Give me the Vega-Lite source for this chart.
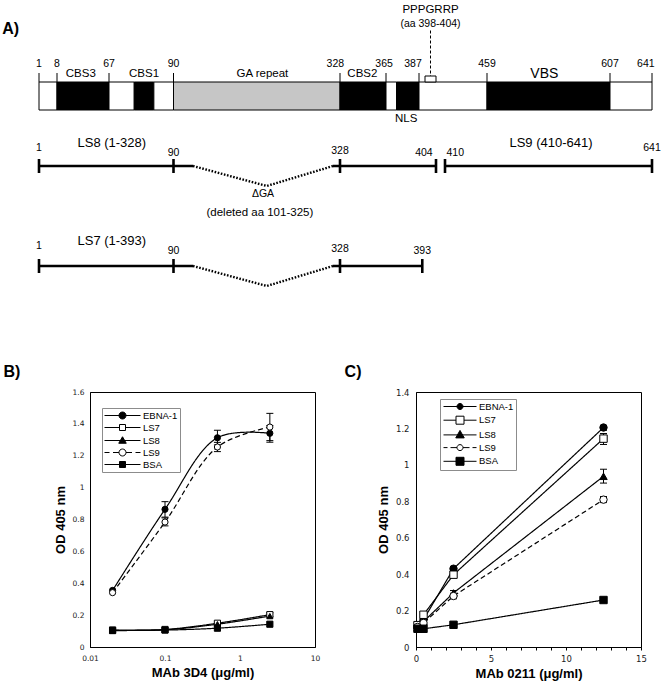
{
  "$schema": "https://vega.github.io/schema/vega-lite/v6.json",
  "padding": 0,
  "background": "white",
  "config": {
    "font": "Liberation Sans",
    "view": {"stroke": "black", "strokeWidth": 1},
    "axis": {"grid": false, "domainColor": "black", "domainWidth": 1, "tickColor": "black", "labelColor": "#1a1a1a", "labelFont": "DejaVu Sans", "titleFont": "Liberation Sans", "titleFontWeight": "bold", "titleColor": "black", "titleFontSize": 13, "labelFlush": false, "labelOverlap": false},
    "text": {"font": "Liberation Sans", "color": "black"},
    "legend": {"title": null, "labelFont": "Liberation Sans", "labelFontSize": 9.5, "labelColor": "black", "strokeColor": "#8c8c8c", "fillColor": "white", "padding": 2, "symbolSize": 100, "symbolStrokeColor": "black", "symbolStrokeWidth": 1, "symbolOpacity": 1}
  },
  "datasets": {
    "bar": [
      {"from": 1, "to": 8, "kind": "plain"},
      {"from": 8, "to": 67, "kind": "binding"},
      {"from": 67, "to": 76, "kind": "plain"},
      {"from": 76, "to": 83, "kind": "binding"},
      {"from": 83, "to": 90, "kind": "plain"},
      {"from": 90, "to": 328, "kind": "repeat"},
      {"from": 328, "to": 365, "kind": "binding"},
      {"from": 365, "to": 372, "kind": "plain"},
      {"from": 372, "to": 387, "kind": "binding"},
      {"from": 387, "to": 459, "kind": "plain"},
      {"from": 459, "to": 607, "kind": "binding"},
      {"from": 607, "to": 641, "kind": "plain"}
    ],
    "boundaries": [
      {"aa": 1}, {"aa": 8}, {"aa": 67}, {"aa": 90}, {"aa": 328}, {"aa": 365}, {"aa": 387}, {"aa": 459}, {"aa": 607}, {"aa": 641}
    ],
    "motif": [{"from": 398, "to": 404, "mid": 401}],
    "labels": [
      {"text": "A)", "aa": -10, "row": 2.8, "kind": "panel"},
      {"text": "B)", "aa": -9.5, "row": 37.1, "kind": "panel"},
      {"text": "C)", "aa": 338.5, "row": 37.1, "kind": "panel"},
      {"text": "PPPGRRP", "aa": 401, "row": 0.85, "kind": "name"},
      {"text": "(aa 398-404)", "aa": 401, "row": 2.25, "kind": "number"},
      {"text": "CBS3", "aa": 35, "row": 7.3, "kind": "name"},
      {"text": "CBS1", "aa": 79.5, "row": 7.3, "kind": "name"},
      {"text": "GA repeat", "aa": 212, "row": 7.3, "kind": "name"},
      {"text": "CBS2", "aa": 346, "row": 7.3, "kind": "name"},
      {"text": "VBS", "aa": 528, "row": 7.25, "kind": "bigname"},
      {"text": "NLS", "aa": 378.5, "row": 11.75, "kind": "name"},
      {"text": "1", "aa": 1, "row": 6.3, "kind": "number"},
      {"text": "8", "aa": 8, "row": 6.3, "kind": "number"},
      {"text": "67", "aa": 67, "row": 6.3, "kind": "number"},
      {"text": "90", "aa": 90, "row": 6.3, "kind": "number"},
      {"text": "328", "aa": 326, "row": 6.3, "kind": "number"},
      {"text": "365", "aa": 363.5, "row": 6.3, "kind": "number"},
      {"text": "387", "aa": 383, "row": 6.3, "kind": "number"},
      {"text": "459", "aa": 459, "row": 6.3, "kind": "number"},
      {"text": "607", "aa": 607, "row": 6.3, "kind": "number"},
      {"text": "641", "aa": 636, "row": 6.3, "kind": "number"},
      {"text": "LS8 (1-328)", "aa": 68, "row": 14.2, "kind": "track"},
      {"text": "LS9 (410-641)", "aa": 536, "row": 14.2, "kind": "track"},
      {"text": "1", "aa": 1, "row": 14.7, "kind": "number"},
      {"text": "90", "aa": 90, "row": 15.2, "kind": "number"},
      {"text": "328", "aa": 328, "row": 15.0, "kind": "number"},
      {"text": "404", "aa": 396, "row": 15.2, "kind": "number"},
      {"text": "410", "aa": 422, "row": 15.2, "kind": "number"},
      {"text": "641", "aa": 641, "row": 14.7, "kind": "number"},
      {"text": "ΔGA", "aa": 213, "row": 19.3, "kind": "number"},
      {"text": "(deleted aa 101-325)", "aa": 208, "row": 21.2, "kind": "name"},
      {"text": "LS7 (1-393)", "aa": 68, "row": 24.0, "kind": "track"},
      {"text": "1", "aa": 1, "row": 24.5, "kind": "number"},
      {"text": "90", "aa": 90, "row": 25.0, "kind": "number"},
      {"text": "328", "aa": 328, "row": 24.8, "kind": "number"},
      {"text": "393", "aa": 393, "row": 25.0, "kind": "number"}
    ],
    "tracks": [
      {"track": "LS8", "from": 1, "to": 101, "row": 16.5},
      {"track": "LS8", "from": 325, "to": 404, "row": 16.5},
      {"track": "LS9", "from": 410, "to": 641, "row": 16.5},
      {"track": "LS7", "from": 1, "to": 101, "row": 26.5},
      {"track": "LS7", "from": 325, "to": 393, "row": 26.5}
    ],
    "caps": [
      {"track": "LS8", "aa": 1, "row": 16.5},
      {"track": "LS8", "aa": 90, "row": 16.5},
      {"track": "LS8", "aa": 328, "row": 16.5},
      {"track": "LS8", "aa": 404, "row": 16.5},
      {"track": "LS9", "aa": 410, "row": 16.5},
      {"track": "LS9", "aa": 641, "row": 16.5},
      {"track": "LS7", "aa": 1, "row": 26.5},
      {"track": "LS7", "aa": 90, "row": 26.5},
      {"track": "LS7", "aa": 328, "row": 26.5},
      {"track": "LS7", "aa": 393, "row": 26.5}
    ],
    "gaps": [
      {"track": "LS8", "aa": 101, "row": 16.5},
      {"track": "LS8", "aa": 219, "row": 18.5},
      {"track": "LS8", "aa": 325, "row": 16.5},
      {"track": "LS7", "aa": 101, "row": 26.5},
      {"track": "LS7", "aa": 219, "row": 28.5},
      {"track": "LS7", "aa": 325, "row": 26.5}
    ],
    "elisaB": [
      {"conc": 0.02, "series": "EBNA-1", "od": 0.355},
      {"conc": 0.1, "series": "EBNA-1", "od": 0.864},
      {"conc": 0.5, "series": "EBNA-1", "od": 1.313},
      {"conc": 2.5, "series": "EBNA-1", "od": 1.341},
      {"conc": 0.02, "series": "LS7", "od": 0.107},
      {"conc": 0.1, "series": "LS7", "od": 0.11},
      {"conc": 0.5, "series": "LS7", "od": 0.149},
      {"conc": 2.5, "series": "LS7", "od": 0.203},
      {"conc": 0.02, "series": "LS8", "od": 0.104},
      {"conc": 0.1, "series": "LS8", "od": 0.108},
      {"conc": 0.5, "series": "LS8", "od": 0.143},
      {"conc": 2.5, "series": "LS8", "od": 0.194},
      {"conc": 0.02, "series": "LS9", "od": 0.341},
      {"conc": 0.1, "series": "LS9", "od": 0.784},
      {"conc": 0.5, "series": "LS9", "od": 1.255},
      {"conc": 2.5, "series": "LS9", "od": 1.38},
      {"conc": 0.02, "series": "BSA", "od": 0.103},
      {"conc": 0.1, "series": "BSA", "od": 0.106},
      {"conc": 0.5, "series": "BSA", "od": 0.118},
      {"conc": 2.5, "series": "BSA", "od": 0.143}
    ],
    "errB": [
      {"conc": 0.1, "series": "EBNA-1", "lo": 0.815, "hi": 0.912},
      {"conc": 0.5, "series": "EBNA-1", "lo": 1.268, "hi": 1.36},
      {"conc": 2.5, "series": "EBNA-1", "lo": 1.285, "hi": 1.39},
      {"conc": 0.1, "series": "LS9", "lo": 0.76, "hi": 0.81},
      {"conc": 0.5, "series": "LS9", "lo": 1.226, "hi": 1.284},
      {"conc": 2.5, "series": "LS9", "lo": 1.295, "hi": 1.466},
      {"conc": 2.5, "series": "LS7", "lo": 0.19, "hi": 0.215}
    ],
    "elisaC": [
      {"conc": 0.1, "series": "EBNA-1", "od": 0.11},
      {"conc": 0.5, "series": "EBNA-1", "od": 0.15},
      {"conc": 2.5, "series": "EBNA-1", "od": 0.43},
      {"conc": 12.5, "series": "EBNA-1", "od": 1.205},
      {"conc": 0.1, "series": "LS7", "od": 0.12},
      {"conc": 0.5, "series": "LS7", "od": 0.177},
      {"conc": 2.5, "series": "LS7", "od": 0.397},
      {"conc": 12.5, "series": "LS7", "od": 1.144},
      {"conc": 0.1, "series": "LS8", "od": 0.105},
      {"conc": 0.5, "series": "LS8", "od": 0.14},
      {"conc": 2.5, "series": "LS8", "od": 0.297},
      {"conc": 12.5, "series": "LS8", "od": 0.937},
      {"conc": 0.1, "series": "LS9", "od": 0.11},
      {"conc": 0.5, "series": "LS9", "od": 0.132},
      {"conc": 2.5, "series": "LS9", "od": 0.28},
      {"conc": 12.5, "series": "LS9", "od": 0.809},
      {"conc": 0.1, "series": "BSA", "od": 0.1},
      {"conc": 0.5, "series": "BSA", "od": 0.1},
      {"conc": 2.5, "series": "BSA", "od": 0.122},
      {"conc": 12.5, "series": "BSA", "od": 0.258}
    ],
    "errC": [
      {"conc": 12.5, "series": "EBNA-1", "lo": 1.19, "hi": 1.215},
      {"conc": 12.5, "series": "LS7", "lo": 1.112, "hi": 1.172},
      {"conc": 12.5, "series": "LS8", "lo": 0.9, "hi": 0.976},
      {"conc": 12.5, "series": "LS9", "lo": 0.793, "hi": 0.826},
      {"conc": 2.5, "series": "LS8", "lo": 0.27, "hi": 0.31},
      {"conc": 2.5, "series": "LS9", "lo": 0.265, "hi": 0.295},
      {"conc": 2.5, "series": "LS7", "lo": 0.385, "hi": 0.41}
    ]
  },
  "spacing": 11,
  "bounds": "flush",
  "vconcat": [
    {
      "width": 572,
      "height": 380,
      "view": {"stroke": null},
      "layer": [
        {
          "data": {"name": "bar"},
          "mark": {"type": "rect", "stroke": "black", "strokeWidth": 1},
          "encoding": {
            "x": {"field": "from", "type": "quantitative", "axis": null, "scale": {"domain": [1, 8, 67, 90, 101, 325, 328, 365, 387, 398, 404, 410, 459, 607, 641], "range": [-51, -33, 19, 83.5, 103, 243, 250, 296, 329, 335, 346, 355, 397, 520, 562], "nice": false, "zero": false}},
            "x2": {"field": "to"},
            "y": {"datum": 8.1, "type": "quantitative", "axis": null, "scale": {"domain": [0, 38], "range": [0, 380], "nice": false, "zero": false}},
            "y2": {"datum": 10.9},
            "fill": {"field": "kind", "type": "nominal", "legend": null, "scale": {"domain": ["plain", "binding", "repeat"], "range": ["white", "black", "#c6c6c6"]}}
          }
        },
        {
          "data": {"name": "motif"},
          "mark": {"type": "rule", "stroke": "white", "strokeWidth": 1},
          "encoding": {
            "x": {"datum": -13.97, "type": "quantitative"},
            "y": {"datum": 0, "type": "quantitative"},
            "y2": {"datum": 0.3}
          }
        },
        {
          "data": {"name": "boundaries"},
          "mark": {"type": "rule", "stroke": "black", "strokeWidth": 1},
          "encoding": {
            "x": {"field": "aa", "type": "quantitative"},
            "y": {"datum": 7.2, "type": "quantitative"},
            "y2": {"datum": 8.1}
          }
        },
        {
          "data": {"name": "motif"},
          "mark": {"type": "rule", "stroke": "black", "strokeWidth": 1, "strokeDash": [3, 2]},
          "encoding": {
            "x": {"field": "mid", "type": "quantitative"},
            "y": {"datum": 2.95, "type": "quantitative"},
            "y2": {"datum": 7.5}
          }
        },
        {
          "data": {"name": "motif"},
          "mark": {"type": "rect", "fill": "white", "stroke": "black", "strokeWidth": 1},
          "encoding": {
            "x": {"field": "from", "type": "quantitative"},
            "x2": {"field": "to"},
            "y": {"datum": 7.5, "type": "quantitative"},
            "y2": {"datum": 8.1}
          }
        },
        {
          "data": {"name": "tracks"},
          "mark": {"type": "rule", "stroke": "black", "strokeWidth": 2.6},
          "encoding": {
            "x": {"field": "from", "type": "quantitative"},
            "x2": {"field": "to"},
            "y": {"field": "row", "type": "quantitative"}
          }
        },
        {
          "data": {"name": "caps"},
          "mark": {"type": "tick", "orient": "vertical", "color": "black", "opacity": 1, "size": 14, "thickness": 2.6},
          "encoding": {
            "x": {"field": "aa", "type": "quantitative"},
            "y": {"field": "row", "type": "quantitative"}
          }
        },
        {
          "data": {"name": "gaps"},
          "mark": {"type": "line", "stroke": "black", "strokeWidth": 2.4, "strokeDash": [1.6, 1.6]},
          "encoding": {
            "x": {"field": "aa", "type": "quantitative"},
            "y": {"field": "row", "type": "quantitative"},
            "detail": {"field": "track", "type": "nominal"}
          }
        },
        {
          "data": {"name": "labels"},
          "transform": [{"filter": "datum.kind === 'number'"}],
          "mark": {"type": "text", "align": "center", "baseline": "middle", "fontSize": 10.5},
          "encoding": {
            "x": {"field": "aa", "type": "quantitative"},
            "y": {"field": "row", "type": "quantitative"},
            "text": {"field": "text"}
          }
        },
        {
          "data": {"name": "labels"},
          "transform": [{"filter": "datum.kind === 'name'"}],
          "mark": {"type": "text", "align": "center", "baseline": "middle", "fontSize": 11.5},
          "encoding": {
            "x": {"field": "aa", "type": "quantitative"},
            "y": {"field": "row", "type": "quantitative"},
            "text": {"field": "text"}
          }
        },
        {
          "data": {"name": "labels"},
          "transform": [{"filter": "datum.kind === 'bigname'"}],
          "mark": {"type": "text", "align": "center", "baseline": "middle", "fontSize": 14},
          "encoding": {
            "x": {"field": "aa", "type": "quantitative"},
            "y": {"field": "row", "type": "quantitative"},
            "text": {"field": "text"}
          }
        },
        {
          "data": {"name": "labels"},
          "transform": [{"filter": "datum.kind === 'track'"}],
          "mark": {"type": "text", "align": "center", "baseline": "middle", "fontSize": 13},
          "encoding": {
            "x": {"field": "aa", "type": "quantitative"},
            "y": {"field": "row", "type": "quantitative"},
            "text": {"field": "text"}
          }
        },
        {
          "data": {"name": "labels"},
          "transform": [{"filter": "datum.kind === 'panel'"}],
          "mark": {"type": "text", "align": "center", "baseline": "middle", "fontSize": 16, "fontWeight": "bold"},
          "encoding": {
            "x": {"field": "aa", "type": "quantitative"},
            "y": {"field": "row", "type": "quantitative"},
            "text": {"field": "text"}
          }
        }
      ]
    },
    {
      "spacing": 101,
      "bounds": "flush",
      "hconcat": [
        {
          "width": 225,
          "height": 255,
          "resolve": {"scale": {"shape": "independent", "fill": "independent", "stroke": "independent"}},
          "layer": [
            {
              "data": {"name": "errB"},
              "mark": {"type": "rule", "stroke": "black", "strokeWidth": 1},
              "encoding": {
                "x": {"field": "conc", "type": "quantitative", "scale": {"type": "log", "domain": [0.01, 10], "nice": false}, "axis": {"title": "MAb 3D4 (μg/ml)", "values": [0.01, 0.1, 1, 10], "tickCount": 20, "format": "~g", "tickSize": 0, "labelPadding": 7, "labelFontSize": 7.5, "titlePadding": 5, "labelOverlap": false, "labelFlush": false}},
                "y": {"field": "lo", "type": "quantitative", "scale": {"domain": [0, 1.6], "nice": false, "zero": true}, "axis": {"title": "OD 405 nm", "values": [0, 0.2, 0.4, 0.6, 0.8, 1, 1.2, 1.4, 1.6], "tickCount": 20, "format": "~g", "tickSize": 0, "labelPadding": 6, "labelFontSize": 7.5, "titlePadding": 5, "labelOverlap": false, "labelFlush": false}},
                "y2": {"field": "hi"}
              }
            },
            {
              "data": {"name": "errB"},
              "mark": {"type": "tick", "orient": "horizontal", "color": "black", "opacity": 1, "size": 7, "thickness": 1},
              "encoding": {
                "x": {"field": "conc", "type": "quantitative"},
                "y": {"field": "lo", "type": "quantitative"}
              }
            },
            {
              "data": {"name": "errB"},
              "mark": {"type": "tick", "orient": "horizontal", "color": "black", "opacity": 1, "size": 7, "thickness": 1},
              "encoding": {
                "x": {"field": "conc", "type": "quantitative"},
                "y": {"field": "hi", "type": "quantitative"}
              }
            },
            {
              "data": {"name": "elisaB"},
              "mark": {"type": "line", "interpolate": "catmull-rom", "color": "black", "strokeWidth": 1.2},
              "encoding": {
                "x": {"field": "conc", "type": "quantitative"},
                "y": {"field": "od", "type": "quantitative"},
                "detail": {"field": "series", "type": "nominal"},
                "strokeDash": {"field": "series", "type": "nominal", "legend": null, "scale": {"domain": ["EBNA-1", "LS7", "LS8", "LS9", "BSA"], "range": [[1, 0], [1, 0], [1, 0], [5, 3], [1, 0]]}}
              }
            },
            {
              "data": {"name": "elisaB"},
              "mark": {"type": "point", "filled": true, "opacity": 1, "stroke": "black", "strokeWidth": 1, "size": 38},
              "encoding": {
                "x": {"field": "conc", "type": "quantitative"},
                "y": {"field": "od", "type": "quantitative"},
                "shape": {"field": "series", "type": "nominal", "legend": null, "scale": {"domain": ["EBNA-1", "LS7", "LS8", "LS9", "BSA"], "range": ["circle", "square", "triangle-up", "circle", "square"]}},
                "fill": {"field": "series", "type": "nominal", "legend": null, "scale": {"domain": ["EBNA-1", "LS7", "LS8", "LS9", "BSA"], "range": ["black", "white", "black", "white", "black"]}}
              }
            },
            {
              "data": {"name": "elisaB"},
              "transform": [{"filter": "false"}],
              "mark": {"type": "point", "filled": true, "opacity": 1, "strokeWidth": 1},
              "encoding": {
                "x": {"field": "conc", "type": "quantitative"},
                "y": {"field": "od", "type": "quantitative"},
                "shape": {"field": "series", "type": "nominal", "scale": {"domain": ["EBNA-1", "LS7", "LS8", "LS9", "BSA"], "range": [
                  "M-3.6,0H3.6M0.7,0A0.7,0.7,0,1,1,-0.7,0A0.7,0.7,0,1,1,0.7,0Z",
                  "M-3.6,0H-0.6M0.6,0H3.6M-0.6,-0.6H0.6V0.6H-0.6Z",
                  "M-3.6,0H3.6M0,-0.75L0.75,0.55H-0.75Z",
                  "M-3.6,0H-2.6M-1.9,0H-0.7M0.7,0H1.9M2.6,0H3.6M0.7,0A0.7,0.7,0,1,1,-0.7,0A0.7,0.7,0,1,1,0.7,0Z",
                  "M-3.6,0H3.6M-0.6,-0.6H0.6V0.6H-0.6Z"
                ]}, "legend": {"orient": "none", "legendX": 12, "legendY": 16, "symbolOffset": 13, "labelOffset": 15, "rowPadding": 1}},
                "fill": {"field": "series", "type": "nominal", "scale": {"domain": ["EBNA-1", "LS7", "LS8", "LS9", "BSA"], "range": ["black", "white", "black", "white", "black"]}, "legend": {"orient": "none", "legendX": 12, "legendY": 16, "symbolOffset": 13, "labelOffset": 15, "rowPadding": 1}},
                "stroke": {"field": "series", "type": "nominal", "scale": {"domain": ["EBNA-1", "LS7", "LS8", "LS9", "BSA"], "range": ["black", "black", "black", "black", "black"]}, "legend": {"orient": "none", "legendX": 12, "legendY": 16, "symbolOffset": 13, "labelOffset": 15, "rowPadding": 1}}
              }
            }
          ]
        },
        {
          "width": 225,
          "height": 255,
          "resolve": {"scale": {"shape": "independent", "fill": "independent", "stroke": "independent"}},
          "layer": [
            {
              "data": {"name": "errC"},
              "mark": {"type": "rule", "stroke": "black", "strokeWidth": 1},
              "encoding": {
                "x": {"field": "conc", "type": "quantitative", "scale": {"domain": [0, 15], "nice": false}, "axis": {"title": "MAb 0211 (μg/ml)", "values": [0, 1, 2, 3, 4, 5, 6, 7, 8, 9, 10, 11, 12, 13, 14, 15], "tickCount": 30, "format": "~g", "labelExpr": "datum.value % 5 === 0 ? datum.label : ''", "tickSize": 3, "labelPadding": 4, "labelFontSize": 8.5, "titlePadding": 5, "labelOverlap": false, "labelFlush": false}},
                "y": {"field": "lo", "type": "quantitative", "scale": {"domain": [0, 1.4], "nice": false}, "axis": {"title": "OD 405 nm", "values": [0, 0.2, 0.4, 0.6, 0.8, 1, 1.2, 1.4], "tickCount": 20, "format": "~g", "tickSize": 0, "labelPadding": 7, "labelFontSize": 8.5, "titlePadding": 5, "labelOverlap": false, "labelFlush": false}},
                "y2": {"field": "hi"}
              }
            },
            {
              "data": {"name": "errC"},
              "mark": {"type": "tick", "orient": "horizontal", "color": "black", "opacity": 1, "size": 7, "thickness": 1},
              "encoding": {
                "x": {"field": "conc", "type": "quantitative"},
                "y": {"field": "lo", "type": "quantitative"}
              }
            },
            {
              "data": {"name": "errC"},
              "mark": {"type": "tick", "orient": "horizontal", "color": "black", "opacity": 1, "size": 7, "thickness": 1},
              "encoding": {
                "x": {"field": "conc", "type": "quantitative"},
                "y": {"field": "hi", "type": "quantitative"}
              }
            },
            {
              "data": {"name": "elisaC"},
              "mark": {"type": "line", "color": "black", "strokeWidth": 1.2},
              "encoding": {
                "x": {"field": "conc", "type": "quantitative"},
                "y": {"field": "od", "type": "quantitative"},
                "detail": {"field": "series", "type": "nominal"},
                "strokeDash": {"field": "series", "type": "nominal", "legend": null, "scale": {"domain": ["EBNA-1", "LS7", "LS8", "LS9", "BSA"], "range": [[1, 0], [1, 0], [1, 0], [5, 3], [1, 0]]}}
              }
            },
            {
              "data": {"name": "elisaC"},
              "mark": {"type": "point", "filled": true, "opacity": 1, "stroke": "black", "strokeWidth": 1, "size": 55},
              "encoding": {
                "x": {"field": "conc", "type": "quantitative"},
                "y": {"field": "od", "type": "quantitative"},
                "shape": {"field": "series", "type": "nominal", "legend": null, "scale": {"domain": ["EBNA-1", "LS7", "LS8", "LS9", "BSA"], "range": ["circle", "square", "triangle-up", "circle", "square"]}},
                "fill": {"field": "series", "type": "nominal", "legend": null, "scale": {"domain": ["EBNA-1", "LS7", "LS8", "LS9", "BSA"], "range": ["black", "white", "black", "white", "black"]}}
              }
            },
            {
              "data": {"name": "elisaC"},
              "transform": [{"filter": "false"}],
              "mark": {"type": "point", "filled": true, "opacity": 1, "strokeWidth": 1},
              "encoding": {
                "x": {"field": "conc", "type": "quantitative"},
                "y": {"field": "od", "type": "quantitative"},
                "shape": {"field": "series", "type": "nominal", "scale": {"domain": ["EBNA-1", "LS7", "LS8", "LS9", "BSA"], "range": [
                  "M-3.3,0H3.3M0.6,0A0.6,0.6,0,1,1,-0.6,0A0.6,0.6,0,1,1,0.6,0Z",
                  "M-3.3,0H-0.8M0.8,0H3.3M-0.8,-0.8H0.8V0.8H-0.8Z",
                  "M-3.3,0H3.3M0,-0.9L0.85,0.6H-0.85Z",
                  "M-3.3,0H-2.5M-1.9,0H-0.6M0.6,0H1.9M2.5,0H3.3M0.6,0A0.6,0.6,0,1,1,-0.6,0A0.6,0.6,0,1,1,0.6,0Z",
                  "M-3.3,0H3.3M-0.8,-0.8H0.8V0.8H-0.8Z"
                ]}, "legend": {"orient": "none", "legendX": 24, "legendY": 7, "symbolOffset": 12.5, "labelOffset": 13.5, "rowPadding": 1.7}},
                "fill": {"field": "series", "type": "nominal", "scale": {"domain": ["EBNA-1", "LS7", "LS8", "LS9", "BSA"], "range": ["black", "white", "black", "white", "black"]}, "legend": {"orient": "none", "legendX": 24, "legendY": 7, "symbolOffset": 12.5, "labelOffset": 13.5, "rowPadding": 1.7}},
                "stroke": {"field": "series", "type": "nominal", "scale": {"domain": ["EBNA-1", "LS7", "LS8", "LS9", "BSA"], "range": ["black", "black", "black", "black", "black"]}, "legend": {"orient": "none", "legendX": 24, "legendY": 7, "symbolOffset": 12.5, "labelOffset": 13.5, "rowPadding": 1.7}}
              }
            }
          ]
        }
      ]
    }
  ]
}
